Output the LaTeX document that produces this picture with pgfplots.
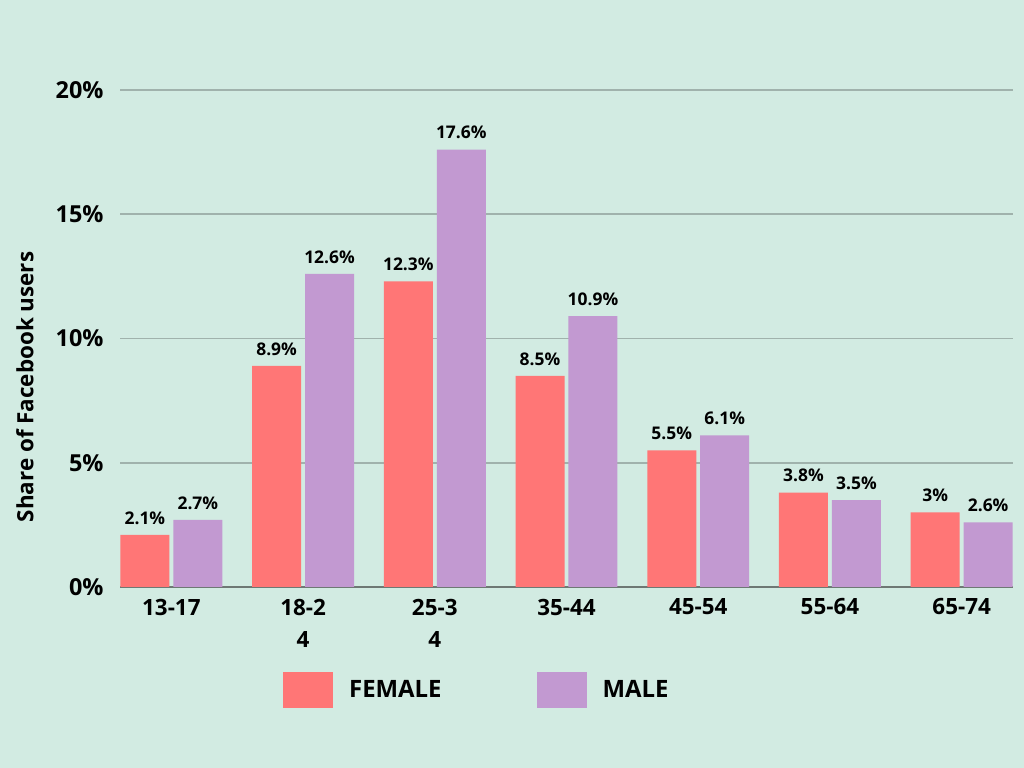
\documentclass[border=0pt]{standalone}
\usepackage{fontspec}
\setmainfont{Open Sans}
\usepackage{pgfplots}
\pgfplotsset{compat=1.18}
\definecolor{bg}{RGB}{210,235,226}
\definecolor{fem}{RGB}{255,118,118}
\definecolor{mal}{RGB}{194,153,209}
\definecolor{gridc}{RGB}{160,178,172}
\definecolor{axc}{RGB}{110,120,116}
\newcommand\fs[2]{\fontsize{#1}{#2}\selectfont\bfseries}
\begin{document}
\begin{tikzpicture}[x=1bp,y=1bp]
\fill[bg] (0,0) rectangle (1024,768);
\useasboundingbox (0,0) rectangle (1024,768);
\begin{axis}[
  at={(120bp,181bp)}, anchor=south west,
  width=893bp, height=497bp, scale only axis,
  xmin=-0.39, xmax=6.39, ymin=0, ymax=20,
  /pgf/number format/assume math mode=true,
  ybar, bar width=0.372,
  axis x line*=bottom, axis y line*=left,
  y axis line style={draw=none},
  x axis line style={draw=axc, line width=2bp, -},
  xtick style={draw=none}, ytick style={draw=none},
  ymajorgrids, grid style={gridc, line width=1.6bp},
  ytick={0,5,10,15,20}, yticklabels={0\%,5\%,10\%,15\%,20\%},
  yticklabel style={font=\fs{23.5}{23.5}, xshift=-13bp},
  xtick={0,1,2,3,4,5,6},
  xticklabels={13-17,{18-2\\4},{25-3\\4},35-44,45-54,55-64,65-74},
  xticklabel style={font=\fs{22.5}{33}, align=center, yshift=-4bp},
  nodes near coords={\pgfmathprintnumber{\pgfplotspointmeta}\%},
  every node near coord/.append style={font=\fs{17.5}{17.5}, black, yshift=7bp},
  legend columns=2,
  legend image code/.code={\fill[#1,draw=none] (0bp,-18bp) rectangle (50bp,18bp);},
  legend style={at={(axis description cs:0.1825,-0.207)}, anchor=west,
    draw=none, fill=none, inner sep=0pt, font=\fs{24}{24},
    /tikz/every even column/.append style={column sep=93bp},
    nodes={inner sep=2bp}},
]
\addplot[fill=fem, draw=none, bar shift=-0.201] coordinates {(0,2.1) (1,8.9) (2,12.3) (3,8.5) (4,5.5) (5,3.8) (6,3.0)};
\addlegendentry{\hspace{14bp}FEMALE}
\addplot[fill=mal, draw=none, bar shift=0.201] coordinates {(0,2.7) (1,12.6) (2,17.6) (3,10.9) (4,6.1) (5,3.5) (6,2.6)};
\addlegendentry{\hspace{14bp}MALE}
\end{axis}
\node[rotate=90, font=\fs{22.5}{22.5}] at (25,381) {Share of Facebook users};
\end{tikzpicture}
\end{document}
